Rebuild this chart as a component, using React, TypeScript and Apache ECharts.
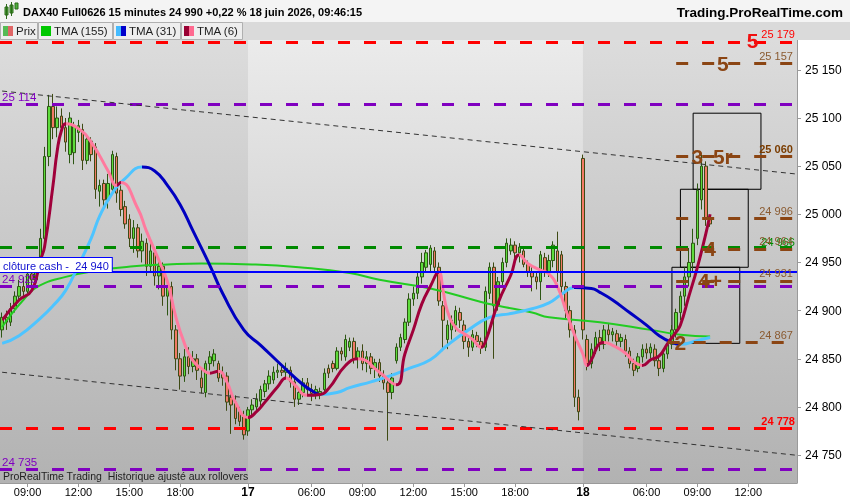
import React, { useEffect, useRef } from "react";
import * as echarts from "echarts";

// ---------- sessions (15-minute slots) ----------
const SESSIONS = [
  { day: "16", start: "07:30", end: "21:45" },
  { day: "17", start: "02:15", end: "21:45" },
  { day: "18", start: "02:15", end: "14:45" },
];

// ---------- candles [open, close, low, high] ----------
const BARS_16: number[][] = [
  [24880, 24893, 24872, 24898], [24893, 24888, 24880, 24900], [24888, 24902, 24884, 24908], [24902, 24915, 24898, 24920],
  [24915, 24925, 24910, 24932], [24925, 24920, 24912, 24935], [24920, 24938, 24915, 24946], [24938, 24932, 24925, 24948],
  [24932, 24945, 24928, 24955], [24945, 24975, 24940, 24985], [24975, 25060, 24970, 25070], [25060, 25112, 25050, 25124],
  [25112, 25090, 25078, 25125], [25090, 25100, 25080, 25112], [25102, 25090, 25086, 25110], [25090, 25075, 25065, 25100],
  [25062, 25100, 25053, 25106], [25064, 25092, 25052, 25096], [25085, 25092, 25075, 25098], [25088, 25056, 25046, 25094],
  [25056, 25078, 25052, 25082], [25076, 25062, 25055, 25080], [25070, 25026, 25016, 25074], [25024, 25030, 25008, 25036],
  [25032, 25015, 25006, 25036], [25015, 25032, 25006, 25042], [25026, 25062, 25020, 25066], [25060, 25022, 25012, 25064],
  [25025, 25005, 24998, 25030], [25008, 24990, 24985, 25014], [24995, 24975, 24966, 25000], [24975, 24986, 24960, 24994],
  [24986, 24962, 24955, 24990], [24962, 24972, 24950, 24980], [24970, 24946, 24936, 24975], [24946, 24962, 24940, 24972],
  [24960, 24936, 24926, 24966], [24936, 24946, 24922, 24952], [24946, 24915, 24905, 24950], [24915, 24925, 24895, 24930],
  [24925, 24880, 24870, 24930], [24880, 24850, 24838, 24885], [24850, 24832, 24818, 24856], [24832, 24852, 24826, 24860],
  [24852, 24842, 24834, 24862], [24842, 24850, 24836, 24858], [24850, 24838, 24828, 24855], [24830, 24820, 24814, 24840],
  [24815, 24845, 24810, 24848], [24845, 24852, 24838, 24858], [24848, 24855, 24842, 24860], [24845, 24830, 24826, 24848],
  [24835, 24830, 24822, 24842], [24832, 24805, 24796, 24836], [24810, 24802, 24772, 24815], [24805, 24788, 24782, 24812],
  [24795, 24785, 24780, 24800], [24790, 24771, 24766, 24796],
];
const BARS_17: number[][] = [
  [24775, 24797, 24770, 24800], [24797, 24802, 24790, 24808], [24800, 24808, 24796, 24814], [24806, 24818, 24800, 24822],
  [24816, 24824, 24810, 24828], [24824, 24832, 24818, 24838], [24828, 24836, 24824, 24842], [24836, 24838, 24830, 24845],
  [24838, 24836, 24832, 24842], [24836, 24840, 24830, 24846], [24838, 24826, 24820, 24842], [24826, 24808, 24800, 24830],
  [24808, 24815, 24802, 24820], [24815, 24825, 24810, 24830], [24825, 24818, 24812, 24830], [24818, 24814, 24806, 24824],
  [24814, 24818, 24808, 24822], [24812, 24816, 24808, 24820], [24818, 24835, 24814, 24840], [24840, 24835, 24830, 24844],
  [24845, 24840, 24836, 24848], [24840, 24858, 24838, 24862], [24858, 24855, 24848, 24862], [24852, 24870, 24848, 24875],
  [24862, 24868, 24858, 24872], [24868, 24850, 24845, 24872], [24850, 24858, 24840, 24862], [24858, 24845, 24838, 24865],
  [24845, 24852, 24836, 24858], [24852, 24840, 24834, 24856], [24840, 24846, 24830, 24850], [24846, 24832, 24826, 24850],
  [24832, 24825, 24818, 24838], [24825, 24815, 24765, 24830], [24815, 24830, 24808, 24835], [24848, 24862, 24845, 24866],
  [24862, 24872, 24858, 24876], [24870, 24888, 24866, 24892], [24888, 24912, 24884, 24918], [24912, 24918, 24905, 24925],
  [24918, 24935, 24912, 24940], [24935, 24950, 24928, 24960], [24945, 24960, 24940, 24963], [24948, 24965, 24940, 24968],
  [24962, 24945, 24940, 24966], [24945, 24910, 24905, 24950], [24905, 24890, 24858, 24910], [24870, 24885, 24860, 24890],
  [24880, 24890, 24870, 24895], [24885, 24900, 24878, 24905], [24898, 24890, 24882, 24903], [24885, 24868, 24860, 24890],
  [24868, 24862, 24852, 24872], [24862, 24875, 24858, 24880], [24874, 24868, 24862, 24878], [24868, 24862, 24855, 24872],
  [24862, 24920, 24858, 24925], [24918, 24945, 24912, 24950], [24945, 24905, 24850, 24950], [24905, 24930, 24900, 24935],
  [24930, 24950, 24925, 24955], [24950, 24970, 24945, 24975], [24962, 24968, 24958, 24975], [24968, 24960, 24952, 24972],
  [24960, 24966, 24950, 24970], [24962, 24948, 24945, 24966], [24948, 24940, 24935, 24952], [24940, 24935, 24920, 24945],
  [24935, 24930, 24922, 24940], [24930, 24958, 24911, 24962], [24955, 24940, 24935, 24960], [24940, 24952, 24935, 24958],
  [24952, 24968, 24945, 24972], [24962, 24940, 24930, 24982], [24958, 24925, 24918, 24962], [24925, 24900, 24892, 24930],
  [24900, 24880, 24872, 24905], [24880, 24810, 24800, 24885], [24810, 24795, 24786, 24818],
];
const BARS_18: number[][] = [
  [25058, 24880, 24870, 25062], [24870, 24845, 24838, 24875], [24845, 24860, 24840, 24866], [24860, 24872, 24855, 24878],
  [24872, 24865, 24858, 24880], [24865, 24880, 24860, 24885], [24880, 24875, 24868, 24886], [24875, 24878, 24868, 24882],
  [24876, 24868, 24862, 24880], [24868, 24872, 24862, 24876], [24870, 24858, 24852, 24875], [24858, 24845, 24840, 24862],
  [24845, 24838, 24832, 24850], [24840, 24852, 24836, 24856], [24852, 24860, 24846, 24865], [24860, 24856, 24850, 24866],
  [24856, 24862, 24850, 24866], [24860, 24848, 24842, 24865], [24848, 24840, 24832, 24852], [24840, 24855, 24836, 24860],
  [24855, 24865, 24850, 24870], [24865, 24880, 24860, 24885], [24880, 24898, 24872, 24902], [24898, 24915, 24890, 24920],
  [24915, 24935, 24905, 24945], [24935, 24950, 24925, 24965], [24950, 24970, 24940, 24985], [24975, 25025, 24968, 25032],
  [25015, 25050, 25005, 25062], [25050, 24995, 24988, 25055], [24995, 24990, 24987, 24998],
];

// ---------- indicators, read at [slot index, value] ----------
const TMA155: number[][] = [
  [0, 24883], [2, 24895], [5, 24911], [8, 24924], [15, 24935], [23, 24942], [31, 24946], [39, 24948], [47, 24949],
  [59, 24948], [70, 24945], [82, 24939], [89, 24932], [101, 24923], [113, 24909], [117, 24905], [125, 24898],
  [129, 24893], [141, 24888], [153, 24880], [160, 24875], [167, 24873],
];
const TMA31: number[][] = [
  [0, 24866], [4, 24874], [9, 24892], [12, 24905], [15, 24921], [18, 24947], [21, 24975], [23, 24998], [26, 25022],
  [29, 25037], [33, 25049], [36, 25045], [39, 25030], [42, 25010], [45, 24983], [49, 24947], [52, 24918], [57, 24880],
  [61, 24864], [66, 24843], [71, 24823], [73, 24817], [75, 24813], [79, 24815], [82, 24820], [87, 24826], [92, 24833],
  [96, 24840], [101, 24849], [105, 24864], [110, 24880], [115, 24893], [120, 24897], [125, 24902], [129, 24908],
  [132, 24917], [135, 24924], [139, 24923], [141, 24919], [144, 24911], [148, 24898], [152, 24885], [155, 24874],
  [158, 24867], [160, 24865], [164, 24869], [167, 24872],
];
const TMA6: number[][] = [
  [0, 24890], [4, 24911], [7, 24921], [9, 24952], [10, 24966], [12, 25030], [13, 25066], [14, 25087], [15, 25094],
  [18, 25089], [21, 25075], [25, 25045], [27, 25030], [28, 25033], [32, 25006], [34, 24983], [37, 24952], [39, 24930],
  [41, 24893], [43, 24866], [45, 24848], [47, 24840], [49, 24835], [51, 24837], [53, 24826], [55, 24805], [58, 24789],
  [60, 24795], [62, 24805], [65, 24821], [67, 24830], [69, 24823], [72, 24812], [75, 24813], [77, 24819], [81, 24843],
  [84, 24850], [89, 24836], [93, 24823], [95, 24855], [97, 24880], [99, 24907], [101, 24925], [103, 24940], [104, 24921],
  [105, 24900], [107, 24882], [109, 24876], [111, 24870], [113, 24862], [114, 24868], [117, 24908], [120, 24937],
  [122, 24958], [124, 24949], [127, 24942], [129, 24938], [131, 24925], [133, 24900], [135, 24875], [137, 24855],
  [138, 24843], [139, 24849], [141, 24866], [142, 24867], [144, 24864], [147, 24856], [149, 24847], [151, 24843],
  [153, 24849], [155, 24853], [157, 24866], [159, 24878], [160, 24885], [162, 24915], [164, 24945], [166, 24980], [167, 25000],
];

// ---------- levels ----------
const LAST_PRICE = 24990;
const CASH_CLOSE = 24940;
const RED_LEVELS = [25179, 24778];
const PURPLE_LEVELS = [25114, 24925, 24735];
const GREEN_LEVEL = 24966;
const BROWN_LEVELS = [25157, 25060, 24996, 24964, 24931, 24867];
const BROWN_START = [159, 159, 159, 159, 159, 157];
const TREND_UP = [[0, 25128], [187, 25042]];
const TREND_DN = [[0, 24836], [187, 24750]];
const BOXES = [
  { x0: 162.7, x1: 178.6, top: 25105, bottom: 25026 },
  { x0: 159.9, x1: 175.7, top: 25026, bottom: 24945 },
  { x0: 157.6, x1: 173.6, top: 24945, bottom: 24866 },
];
const WAVE_LABELS: { text: string; i: number; v: number; red?: boolean }[] = [
  { text: "5", i: 177.0, v: 25180, red: true },
  { text: "5", i: 169.6, v: 25157 },
  { text: "3", i: 163.9, v: 25060 },
  { text: "5r", i: 169.8, v: 25060 },
  { text: "4", i: 167.3, v: 24964 },
  { text: "4+", i: 167.2, v: 24931 },
  { text: "2", i: 159.9, v: 24867 },
];

const RED = "#ff0000";
const PURPLE = "#8000c0";
const GREEN = "#008a00";
const BROWN = "#8b4513";
const BLUE = "#0000ff";
const FONT = "'Liberation Sans', Arial, sans-serif";

const fmt = (v: number) => {
  const s = String(Math.round(v));
  return s.slice(0, s.length - 3) + " " + s.slice(-3);
};

function buildCats() {
  const out: string[] = [];
  for (const s of SESSIONS) {
    const [sh, sm] = s.start.split(":").map(Number);
    const [eh, em] = s.end.split(":").map(Number);
    for (let t = sh * 60 + sm; t <= eh * 60 + em; t += 15) {
      out.push(`${s.day} ${String(Math.floor(t / 60)).padStart(2, "0")}:${String(t % 60).padStart(2, "0")}`);
    }
  }
  return out;
}

function slopePieces(pts: number[][], up: string, down: string) {
  const pieces: any[] = [];
  for (let k = 0; k < pts.length - 1; k++) {
    const rising = pts[k + 1][1] >= pts[k][1];
    pieces.push({ gte: pts[k][0], lt: pts[k + 1][0], color: rising ? up : down });
  }
  pieces.push({ gte: pts[pts.length - 1][0], color: pieces[pieces.length - 1].color });
  return pieces;
}

export default function App() {
  const ref = useRef<HTMLDivElement>(null);
  useEffect(() => {
    if (!ref.current) return;
    const chart = echarts.init(ref.current, undefined, { renderer: "svg" });
    const cats = buildCats();
    const bars = [...BARS_16, ...BARS_17, ...BARS_18];
    const day17Start = BARS_16.length - 0.5;
    const day17End = BARS_16.length + BARS_17.length - 0.5;
    const lastIdx = cats.length - 1;
    const showTime = ["06:00", "09:00", "12:00", "15:00", "18:00"];
    const labelShown = (idx: number) => {
      const [d, t] = cats[idx].split(" ");
      return showTime.includes(t) || (t === "02:15" && d !== "16");
    };

    const dashed = [12, 14];
    const fullLine = (v: number, color: string, label: any, width = 3, type: any = dashed) => ({
      yAxis: v,
      lineStyle: { color, width, type },
      label,
    });
    const markLines: any[] = [];
    RED_LEVELS.forEach((v, k) =>
      markLines.push(
        fullLine(v, RED, {
          show: true, position: "insideEndTop", formatter: fmt(v), color: RED, fontSize: 11,
          fontWeight: k === 1 ? "bold" : "normal", distance: [2, 2], fontFamily: FONT,
        })
      )
    );
    PURPLE_LEVELS.forEach((v) =>
      markLines.push(
        fullLine(v, PURPLE, {
          show: true, position: "insideStartTop", formatter: fmt(v), color: PURPLE, fontSize: 11.5, distance: [2, 2], fontFamily: FONT,
        })
      )
    );
    markLines.push(
      fullLine(GREEN_LEVEL, GREEN, {
        show: true, position: "insideEndTop", formatter: fmt(GREEN_LEVEL), color: GREEN, fontSize: 11, distance: [2, 0], fontFamily: FONT,
      })
    );
    markLines.push(
      fullLine(CASH_CLOSE, BLUE, {
        show: true, position: "insideStartTop", formatter: "clôture cash -  " + fmt(CASH_CLOSE), color: "#1010d0",
        fontSize: 11, backgroundColor: "#ffffff", borderColor: BLUE, borderWidth: 1, padding: [2, 3, 1, 3],
        distance: [0, 0], fontFamily: FONT,
      }, 2, "solid")
    );
    BROWN_LEVELS.forEach((v, k) =>
      markLines.push([
        {
          coord: [BROWN_START[k], v],
          lineStyle: { color: BROWN, width: 3, type: dashed },
          label: {
            show: true, position: "insideEndTop", formatter: fmt(v), color: k === 1 ? "#7a3c00" : "#8a5a30",
            fontSize: 11, fontWeight: k === 1 ? "bold" : "normal", distance: [2, 2], fontFamily: FONT,
          },
        },
        { coord: [lastIdx, v] },
      ])
    );
    [TREND_UP, TREND_DN].forEach((t) =>
      markLines.push([
        { coord: t[0], lineStyle: { color: "#333333", width: 1, type: [5, 4] }, label: { show: false } },
        { coord: t[1] },
      ])
    );
    markLines.push({
      yAxis: LAST_PRICE,
      lineStyle: { opacity: 0 },
      label: {
        show: true, position: "end", formatter: fmt(LAST_PRICE), color: "#000", fontSize: 12, fontFamily: FONT,
        backgroundColor: "#f7c600", borderColor: "#b89000", borderWidth: 1, padding: [2, 2, 1, 2], distance: 6,
      },
    });

    const dayGrad = new echarts.graphic.LinearGradient(0, 0, 0, 1, [
      { offset: 0, color: "#dcdcdc" },
      { offset: 1, color: "#b2b2b2" },
    ]);
    const lightGrad = new echarts.graphic.LinearGradient(0, 0, 0, 1, [
      { offset: 0, color: "#ebebeb" },
      { offset: 1, color: "#bdbdbd" },
    ]);

    const markAreas: any[] = [
      [{ xAxis: day17Start, itemStyle: { color: lightGrad, borderWidth: 0 } }, { xAxis: day17End }],
      ...BOXES.map((b) => [
        { coord: [b.x0, b.top], itemStyle: { color: "rgba(0,0,0,0)", borderColor: "#000", borderWidth: 1 } },
        { coord: [b.x1, b.bottom] },
      ]),
    ];

    const markPoints = WAVE_LABELS.map((w) => ({
      coord: [w.i, w.v],
      symbolSize: 0,
      label: {
        show: true, position: "inside", formatter: w.text, color: w.red ? "#f01010" : BROWN,
        fontSize: 21, fontWeight: "bold", fontFamily: FONT,
      },
    }));

    const header: any[] = [
      { type: "rect", shape: { x: 0, y: 0, width: 850, height: 22 }, style: { fill: "#f4f4f4" } },
      { type: "rect", shape: { x: 0, y: 22, width: 850, height: 18 }, style: { fill: "#dadada" } },
      { type: "rect", shape: { x: 5, y: 7, width: 3, height: 8 }, style: { fill: "#4caf3a", stroke: "#2d6a1a", lineWidth: 1 } },
      { type: "line", shape: { x1: 6.5, y1: 4, x2: 6.5, y2: 19 }, style: { stroke: "#2d6a1a", lineWidth: 1 } },
      { type: "rect", shape: { x: 10, y: 5, width: 3, height: 8 }, style: { fill: "#4caf3a", stroke: "#2d6a1a", lineWidth: 1 } },
      { type: "line", shape: { x1: 11.5, y1: 2, x2: 11.5, y2: 16 }, style: { stroke: "#2d6a1a", lineWidth: 1 } },
      { type: "rect", shape: { x: 15, y: 3, width: 3, height: 6 }, style: { fill: "#4caf3a", stroke: "#2d6a1a", lineWidth: 1 } },
      {
        type: "text", x: 23, y: 12,
        style: { text: "DAX40 Full0626 15 minutes 24 990 +0,22 % 18 juin 2026, 09:46:15", fontSize: 11, fontWeight: "bold", fontFamily: FONT, fill: "#000", verticalAlign: "middle" },
      },
      {
        type: "text", x: 843, y: 12,
        style: { text: "Trading.ProRealTime.com", fontSize: 13.5, fontWeight: "bold", fontFamily: FONT, fill: "#000", align: "right", verticalAlign: "middle" },
      },
    ];
    const tabs = [
      { x: 0, w: 37, label: "Prix", c1: "#55bb55", c2: "#e06666" },
      { x: 38, w: 74, label: "TMA (155)", c1: "#00c800", c2: "#00c800" },
      { x: 113, w: 67, label: "TMA (31)", c1: "#44bbff", c2: "#0000cc" },
      { x: 181, w: 61, label: "TMA (6)", c1: "#990033", c2: "#ff6a90" },
    ];
    tabs.forEach((t) => {
      header.push({ type: "rect", shape: { x: t.x + 0.5, y: 22.5, width: t.w, height: 17 }, style: { fill: "#eeeeee", stroke: "#b0b0b0", lineWidth: 1 } });
      header.push({ type: "rect", shape: { x: t.x + 3, y: 26, width: 5, height: 10 }, style: { fill: t.c1 } });
      header.push({ type: "rect", shape: { x: t.x + 8, y: 26, width: 5, height: 10 }, style: { fill: t.c2 } });
      header.push({
        type: "text", x: t.x + 16, y: 31,
        style: { text: t.label, fontSize: 11.5, fontFamily: FONT, fill: "#222", verticalAlign: "middle" },
      });
    });
    header.push({
      type: "text", x: 3, y: 476,
      style: { text: "ProRealTime Trading  Historique ajusté aux rollovers", fontSize: 10.5, fontFamily: FONT, fill: "#222", verticalAlign: "middle" },
    });

    chart.setOption({
      animation: false,
      textStyle: { fontFamily: FONT },
      grid: {
        left: 0, right: 53, top: 40, bottom: 17, show: true, backgroundColor: dayGrad, borderWidth: 0,
        containLabel: false, outerBoundsMode: "none",
      },
      xAxis: {
        type: "category",
        data: cats,
        boundaryGap: true,
        axisLine: { show: true, lineStyle: { color: "#9a9a9a" } },
        axisTick: { show: true, alignWithLabel: true, interval: (i: number) => labelShown(i), length: 4, lineStyle: { color: "#9a9a9a" } },
        axisLabel: {
          interval: (i: number) => labelShown(i),
          formatter: (val: string) => {
            const [d, t] = val.split(" ");
            return t === "02:15" ? `{b|${d}}` : t;
          },
          color: "#000",
          fontSize: 11,
          fontFamily: "'Liberation Sans Narrow', 'Arial Narrow', " + FONT,
          margin: 3,
          rich: { b: { fontWeight: "bold", fontSize: 12, fontFamily: FONT, color: "#000" } },
        },
        splitLine: { show: false },
      },
      yAxis: {
        type: "value",
        position: "right",
        min: 24721,
        max: 25181,
        splitNumber: 9,
        splitLine: { show: false },
        axisLine: { show: true, lineStyle: { color: "#9a9a9a" } },
        axisTick: { show: true, length: 4, lineStyle: { color: "#9a9a9a" } },
        axisLabel: { formatter: (v: number) => fmt(v), color: "#000", fontSize: 12, margin: 8, showMinLabel: false, showMaxLabel: false },
      },
      visualMap: [
        { show: false, type: "piecewise", seriesIndex: 2, dimension: 0, pieces: slopePieces(TMA31, "#4ec4ff", "#0000c0") },
        { show: false, type: "piecewise", seriesIndex: 3, dimension: 0, pieces: slopePieces(TMA6, "#a0003a", "#ff7a9e") },
      ],
      series: [
        {
          name: "Prix",
          type: "candlestick",
          data: bars,
          barWidth: 3,
          itemStyle: { color: "#5edc3c", color0: "#f27a66", borderColor: "#2d5614", borderColor0: "#3e4a14", borderWidth: 1 },
          markLine: { silent: true, symbol: ["none", "none"], data: markLines, animation: false, z: 150 },
          markArea: { silent: true, data: markAreas, animation: false },
          markPoint: { silent: true, data: markPoints, animation: false, z: 160 },
        },
        {
          name: "TMA (155)", type: "line", data: TMA155, smooth: true, showSymbol: false,
          lineStyle: { color: "#22cc22", width: 2 }, z: 3,
        },
        { name: "TMA (31)", type: "line", data: TMA31, smooth: true, showSymbol: false, lineStyle: { width: 3 }, z: 4 },
        { name: "TMA (6)", type: "line", data: TMA6, smooth: true, showSymbol: false, lineStyle: { width: 3 }, z: 5 },
      ],
      graphic: { elements: header.map((e) => ({ ...e, z: 100, silent: true })) },
    });
    return () => chart.dispose();
  }, []);
  return <div ref={ref} style={{ position: "fixed", left: 0, top: 0, width: 850, height: 500 }} />;
}
